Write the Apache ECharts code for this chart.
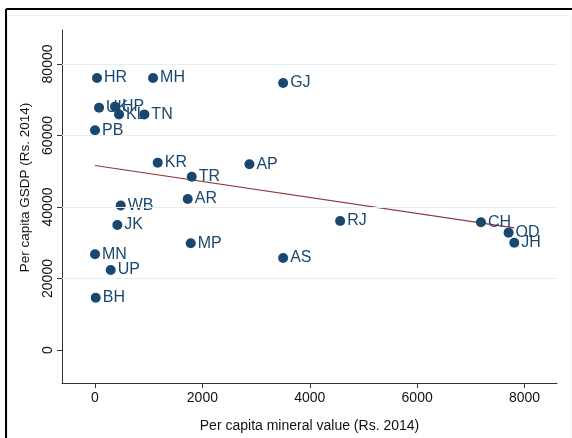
<!DOCTYPE html>
<html>
<head>
<meta charset="utf-8">
<script src="https://cdn.jsdelivr.net/npm/echarts@6/dist/echarts.min.js"></script>
<style>
  html, body { margin: 0; padding: 0; background: #ffffff; }
  #chart { width: 572px; height: 438px; }
</style>
</head>
<body>
<div id="chart"></div>
<script>
// ---- Data ----
const states = ['HR','MH','GJ','UK','HP','KL','TN','PB','KR','TR','AP','AR','WB','JK','MP','MN','UP','BH','AS','RJ','CH','OD','JH'];
const mineralValue = [37, 1081, 3504, 75, 373, 447, 919, 0, 1168, 1802, 2876, 1727, 479, 416, 1783, 0, 292, 13, 3504, 4566, 7188, 7703, 7809];
const gsdp = [76080, 76080, 74690, 67780, 68060, 65900, 65900, 61450, 52400, 48480, 51940, 42240, 40400, 34970, 29840, 26760, 22380, 14630, 25730, 36080, 35710, 32820, 30010];
const xTicks = [0, 2000, 4000, 6000, 8000];
const yTicks = [0, 20000, 40000, 60000, 80000];
const yGridLines = [20000, 40000, 60000, 80000];
const xTitle = 'Per capita mineral value (Rs. 2014)';
const yTitle = 'Per capita GSDP (Rs. 2014)';

// ---- Linear fit (OLS) computed from the data ----
const n = mineralValue.length;
const mx = mineralValue.reduce((a, b) => a + b, 0) / n;
const my = gsdp.reduce((a, b) => a + b, 0) / n;
let sxy = 0, sxx = 0;
for (let i = 0; i < n; i++) {
  sxy += (mineralValue[i] - mx) * (gsdp[i] - my);
  sxx += (mineralValue[i] - mx) * (mineralValue[i] - mx);
}
const slope = sxy / sxx;
const intercept = my - slope * mx;
const xMinData = Math.min(...mineralValue);
const xMaxData = Math.max(...mineralValue);
const fitLine = [[xMinData, intercept + slope * xMinData], [xMaxData, intercept + slope * xMaxData]];

const navy = '#1a476f';
const font = '"Liberation Sans", Arial, Helvetica, sans-serif';
const plain = v => String(v);

const chart = echarts.init(document.getElementById('chart'), null, { renderer: 'canvas' });
chart.setOption({
  animation: false,
  backgroundColor: '#ffffff',
  grid: { left: 62, top: 30, right: 15, bottom: 55, containLabel: false },
  xAxis: {
    type: 'value',
    min: -615, max: 8605,
    axisLine: { show: true, onZero: false, lineStyle: { color: '#333', width: 1 } },
    axisTick: { show: true, length: 5, customValues: xTicks, lineStyle: { color: '#333' } },
    axisLabel: { customValues: xTicks, formatter: plain, margin: 8, color: '#111', fontSize: 14, fontFamily: font },
    splitLine: { show: false },
    name: xTitle, nameLocation: 'middle', nameGap: 36,
    nameTextStyle: { color: '#111', fontSize: 14, fontFamily: font }
  },
  yAxis: {
    type: 'value',
    min: -9230, max: 89500,
    axisLine: { show: true, onZero: false, lineStyle: { color: '#333', width: 1 } },
    axisTick: { show: true, length: 5, customValues: yTicks, lineStyle: { color: '#333' } },
    axisLabel: { customValues: yTicks, formatter: plain, rotate: 90, margin: 7, color: '#111', fontSize: 14, fontFamily: font },
    splitLine: { show: false },
    name: yTitle, nameLocation: 'middle', nameGap: 30,
    nameTextStyle: { color: '#111', fontSize: 13.5, fontFamily: font, padding: [0, 0, 0, 38] }
  },
  graphic: [
    { type: 'line', shape: { x1: 6, y1: 9, x2: 572, y2: 9 }, style: { stroke: '#000', lineWidth: 2 }, silent: true },
    { type: 'line', shape: { x1: 6, y1: 9, x2: 6, y2: 438 }, style: { stroke: '#000', lineWidth: 2 }, silent: true },
    { type: 'rect', shape: { x: 7.5, y: 15.5, width: 563, height: 430 }, style: { fill: 'none', stroke: '#eef3f4', lineWidth: 1 }, silent: true }
  ],
  series: [
    {
      type: 'scatter',
      data: states.map((s, i) => [mineralValue[i], gsdp[i], s]),
      symbolSize: 10,
      itemStyle: { color: navy, opacity: 1 },
      label: {
        show: true, position: 'right', distance: 2,
        formatter: p => p.value[2],
        color: navy, fontSize: 16, fontFamily: font
      },
      markLine: {
        silent: true, symbol: 'none', animation: false,
        label: { show: false },
        lineStyle: { color: '#e6eef0', type: 'solid', width: 1 },
        data: yGridLines.map(v => ({ yAxis: v }))
      },
      z: 3
    },
    {
      type: 'line',
      data: fitLine,
      showSymbol: false,
      lineStyle: { color: '#90353b', width: 1.2 },
      z: 2
    }
  ]
});
</script>
</body>
</html>
